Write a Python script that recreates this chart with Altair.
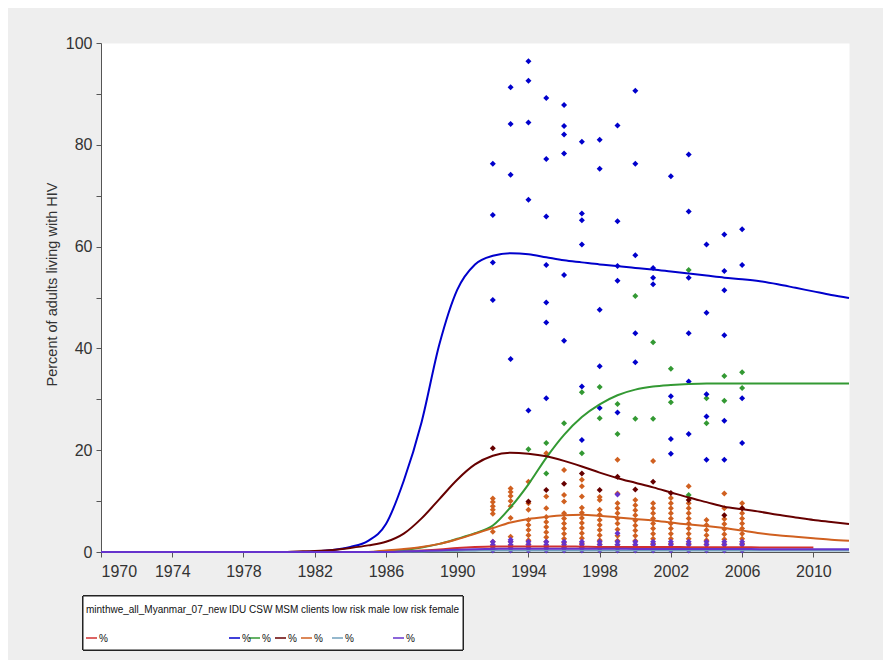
import altair as alt
import pandas as pd

# ---------------- data ----------------
years = list(range(1970, 2013))

series_names = ["minthwe_all_Myanmar_07_new", "IDU", "CSW", "MSM", "clients",
                "low risk male", "low risk female"]
series_colors = ["#d03030", "#0000cc", "#339933", "#660000", "#d06020",
                 "#72a0bc", "#6633cc"]

minthwe = [0.0] * 16 + [0.05, 0.15, 0.3, 0.5, 0.8, 1.0, 1.1, 1.1, 1.1, 1.1, 1.1, 1.05,
                        1.0, 1.0, 1.0, 1.0, 1.0, 0.95, 0.95, 0.95, 0.95, 0.9, 0.9, 0.9,
                        0.9, None, None]
idu = [0.0] * 12 + [0.1, 0.4, 1.0, 2.2, 5.5, 14.0, 25.5, 40.8, 51.5, 56.5, 58.2, 58.7,
                    58.5, 57.9, 57.3, 56.9, 56.5, 56.2, 55.8, 55.5, 55.1, 54.7, 54.3,
                    53.9, 53.6, 53.2, 52.6, 51.9, 51.2, 50.5, 49.9]
csw = [0.0] * 16 + [0.2, 0.4, 0.9, 1.6, 2.6, 3.7, 5.2, 8.8, 13.3, 18.5, 23.0, 26.5,
                    29.0, 30.8, 31.9, 32.5, 32.8, 33.0, 33.1, 33.1, 33.1, 33.1, 33.1,
                    33.1, 33.1, 33.1, 33.1]
msm = [0.0] * 11 + [0.1, 0.2, 0.4, 0.8, 1.3, 2.0, 3.6, 6.6, 10.4, 14.2, 17.2, 18.9,
                    19.5, 19.3, 18.8, 17.9, 16.8, 15.6, 14.5, 13.6, 12.7, 11.7, 10.7,
                    9.8, 8.9, 8.4, 7.9, 7.3, 6.8, 6.3, 5.9, 5.5]
clients = [0.0] * 16 + [0.3, 0.6, 1.0, 1.6, 2.5, 3.6, 4.7, 5.8, 6.5, 6.9, 7.2, 7.3,
                        7.1, 6.8, 6.5, 6.2, 5.8, 5.4, 5.1, 4.7, 4.2, 3.7, 3.3, 3.0,
                        2.7, 2.4, 2.2]
low_male = [0.0] * 17 + [0.05, 0.1, 0.15, 0.2, 0.25, 0.3, 0.3, 0.3, 0.3, 0.3, 0.3,
                         0.3, 0.3, 0.3, 0.3, 0.3, 0.3, 0.3, 0.3, 0.3, 0.3, 0.3, 0.3,
                         0.3, 0.3, 0.3]
low_female = [0.0] * 17 + [0.1, 0.2, 0.3, 0.45, 0.55, 0.6, 0.65, 0.65, 0.65, 0.65,
                           0.65, 0.65, 0.65, 0.6, 0.6, 0.6, 0.6, 0.6, 0.6, 0.6, 0.55,
                           0.55, 0.55, 0.55, 0.55, 0.55]

curves = [minthwe, idu, csw, msm, clients, low_male, low_female]

# observed surveillance points (year -> values)
idu_obs = {
    1992: [76.3, 66.2, 56.9, 49.5],
    1993: [91.3, 84.1, 74.1, 37.9],
    1994: [96.4, 92.6, 84.4, 69.2, 27.8],
    1995: [89.2, 77.2, 65.9, 56.4, 49.0, 45.1, 30.2],
    1996: [87.8, 83.7, 82.0, 78.3, 54.4, 41.5],
    1997: [80.6, 66.5, 65.2, 60.4, 32.5, 22.0],
    1998: [81.0, 75.3, 47.6, 36.5, 28.3],
    1999: [83.8, 65.0, 56.2, 53.3, 27.4],
    2000: [90.6, 76.3, 58.3, 43.0, 37.3],
    2001: [55.8, 53.9, 52.6],
    2002: [73.8, 30.6, 22.2, 19.3],
    2003: [78.1, 66.9, 53.9, 43.0, 33.5, 23.2],
    2004: [60.4, 47.0, 31.0, 26.6, 18.1],
    2005: [62.4, 55.2, 51.4, 42.6, 25.8, 18.1],
    2006: [63.4, 56.4, 30.2, 21.4],
}
csw_obs = {
    1994: [20.2], 1995: [21.4, 15.4], 1996: [25.3], 1997: [31.4, 19.4],
    1998: [32.4, 26.3], 1999: [29.1, 23.2], 2000: [50.3, 26.2], 2001: [41.2, 26.2],
    2002: [36.0, 29.4], 2003: [55.4, 11.2], 2004: [30.2, 25.3], 2005: [34.6, 29.7],
    2006: [35.3, 32.2],
}
msm_obs = {
    1992: [20.4], 1994: [9.9], 1995: [12.2], 1996: [13.4], 1997: [15.4], 1998: [12.2],
    1999: [14.8], 2000: [12.3], 2001: [13.8], 2002: [11.6], 2003: [10.2], 2005: [7.2],
    2006: [8.6],
}
clients_obs = {
    1992: [10.5, 9.8, 9.0, 8.3, 7.5, 4.0, 2.0, 1.2],
    1993: [12.5, 11.8, 11.0, 10.0, 9.0, 6.7, 3.0, 2.0, 1.2],
    1994: [13.8, 9.6, 8.3, 6.3, 5.3, 4.3, 3.3, 2.3, 1.5],
    1995: [19.4, 10.9, 8.6, 6.9, 5.9, 4.9, 3.9, 2.9, 2.0, 1.2],
    1996: [16.1, 11.2, 9.9, 7.6, 6.6, 5.6, 4.6, 3.6, 2.6, 1.8, 1.0],
    1997: [14.2, 12.9, 10.9, 8.7, 7.7, 6.7, 5.7, 4.7, 3.7, 2.7, 1.7, 1.0],
    1998: [10.8, 10.2, 8.3, 7.3, 6.3, 5.3, 4.3, 3.3, 2.3, 1.5],
    1999: [18.1, 11.5, 9.6, 8.6, 7.6, 6.6, 5.6, 4.4, 3.2, 2.2, 1.4],
    2000: [10.2, 9.2, 8.2, 7.2, 6.2, 5.2, 4.2, 3.2, 2.2, 1.4],
    2001: [17.9, 9.6, 8.6, 7.6, 6.6, 5.6, 4.6, 3.6, 2.6, 1.6],
    2002: [10.6, 9.6, 8.6, 7.6, 6.6, 5.6, 4.6, 3.6, 2.6, 1.6],
    2003: [12.9, 9.6, 8.6, 7.6, 6.6, 5.6, 4.6, 3.6, 2.6, 1.6],
    2004: [6.3, 5.3, 4.3, 3.3, 2.3, 1.5],
    2005: [11.5, 8.6, 6.5, 5.5, 4.5, 3.5, 2.5, 1.5],
    2006: [9.6, 8.6, 7.6, 6.6, 5.6, 4.6, 3.6, 2.6, 1.6],
}
low_female_obs = {
    1992: [0.3, 0.8, 1.4, 2.0], 1993: [0.3, 0.8, 1.4, 2.0, 2.4],
    1994: [0.3, 0.8, 1.4, 2.0], 1995: [0.3, 0.8, 1.4, 2.0],
    1996: [0.3, 0.8, 1.4, 2.0], 1997: [0.3, 0.8, 1.4, 2.0],
    1998: [0.3, 0.8, 1.4, 2.0], 1999: [0.3, 0.8, 1.4, 2.0, 3.7, 11.3],
    2000: [0.3, 0.8, 1.4, 2.0], 2001: [0.3, 0.8, 1.4, 2.0],
    2002: [0.3, 0.8, 1.4, 2.0], 2003: [0.3, 0.8, 1.4, 2.0],
    2004: [0.3, 0.8, 1.4, 2.0], 2005: [0.3, 0.8, 1.4, 2.0],
    2006: [0.3, 0.8, 1.4, 2.0],
}
observations = [("clients", clients_obs), ("CSW", csw_obs), ("IDU", idu_obs),
                ("MSM", msm_obs), ("low risk female", low_female_obs)]

x_ticks = list(range(1970, 2013, 2))
y_ticks = list(range(0, 101, 10))

# legend layout (pixel offsets from plot origin)
legend_x = [-15, 128, 148, 174, 200, 231, 292]

# ---------------- tables ----------------
rows = []
for name, vals in zip(series_names, curves):
    assert len(vals) == len(years), name
    for yr, v in zip(years, vals):
        if v is not None:
            rows.append({"year": yr, "value": v, "series": name})
curve_df = pd.DataFrame(rows)

prow = []
for name, obs in observations:
    for yr, vals in obs.items():
        for v in vals:
            prow.append({"year": yr, "value": v, "series": name})
obs_df = pd.DataFrame(prow)

leg_df = pd.DataFrame({
    "series": series_names,
    "lx": legend_x,
    "lx2": [v + 11 for v in legend_x],
    "px": [v + 13 for v in legend_x],
})

color_scale = alt.Scale(domain=series_names, range=series_colors)
legend_font = "Liberation Sans, Arial, sans-serif"

x_enc = alt.X("year:Q", scale=alt.Scale(domain=[1970, 2012], nice=False, zero=False),
              axis=alt.Axis(values=x_ticks, format="d", title=None,
                            labelExpr="(datum.value - 1970) % 4 == 0 ? datum.label : ''",
                            labelPadding=6, tickSize=5, grid=False))
y_enc = alt.Y("value:Q", scale=alt.Scale(domain=[0, 100], nice=False),
              axis=alt.Axis(values=y_ticks, title="Percent of adults living with HIV",
                            labelExpr="datum.value % 20 == 0 ? datum.label : ''",
                            labelPadding=4, tickSize=5, grid=False, titlePadding=6,
                            titleY=241))

points = alt.Chart(obs_df).mark_point(shape="diamond", filled=True, size=36,
                                      opacity=1).encode(
    x=x_enc, y=y_enc,
    color=alt.Color("series:N", scale=color_scale, legend=None),
)

lines = alt.Chart(curve_df).mark_line(strokeWidth=2, interpolate="monotone").encode(
    x="year:Q", y="value:Q",
    color=alt.Color("series:N", scale=color_scale, legend=None),
)

legend_box = alt.Chart(leg_df).mark_rect(fill="white", stroke="#222222",
                                         strokeWidth=1).encode(
    x=alt.value(-18), x2=alt.value(362), y=alt.value(553), y2=alt.value(607))

legend_head = alt.Chart(leg_df).mark_text(
    align="left", baseline="middle", fontSize=10, color="#111111",
    font=legend_font).encode(
    x=alt.X("lx:Q", scale=None), y=alt.value(567), text="series:N")

legend_swatch = alt.Chart(leg_df).mark_rule(strokeWidth=1.5).encode(
    x=alt.X("lx:Q", scale=None), x2="lx2:Q", y=alt.value(595),
    color=alt.Color("series:N", scale=color_scale, legend=None))

legend_pct = alt.Chart(leg_df).mark_text(
    align="left", baseline="middle", fontSize=10, color="#111111",
    font=legend_font).encode(
    x=alt.X("px:Q", scale=None), y=alt.value(596), text=alt.value("%"))

chart = alt.layer(points, lines, legend_box, legend_head, legend_swatch,
                  legend_pct).properties(
    width=748, height=509,
    autosize=alt.AutoSizeParams(type="none"),
    padding={"left": 93, "top": 35, "right": 34, "bottom": 108},
    background="#eeeeee",
).configure_view(fill="white", stroke="transparent").configure_axis(
    labelFont="Liberation Sans", labelFontSize=16, labelColor="#333333",
    titleFont="Liberation Sans", titleFontSize=14.5, titleColor="#333333",
    titleFontWeight="normal", domainColor="#555555", tickColor="#555555",
)

chart.save("out.html", embed_options={"renderer": "svg", "actions": False})
